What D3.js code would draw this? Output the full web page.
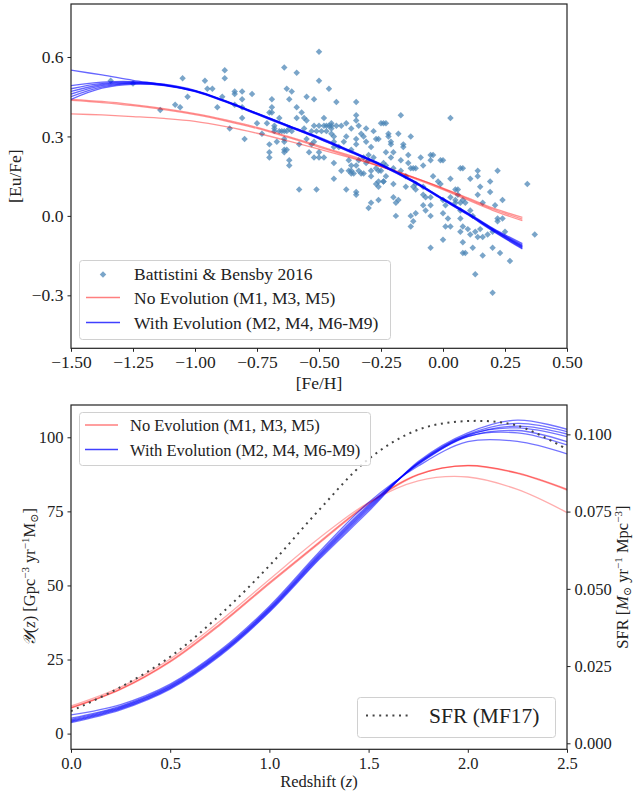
<!DOCTYPE html>
<html>
<head>
<meta charset="utf-8">
<script src="https://cdn.jsdelivr.net/npm/d3@7"></script>
<style>
body { margin: 0; background: #fff; }
text { font-family: "Liberation Serif", "DejaVu Serif", serif; fill: #222; }
</style>
</head>
<body>
<svg id="fig" width="634" height="795"></svg>
<script>

// --- top panel: stars of Battistini & Bensby 2016, [Fe/H] vs [Eu/Fe] ---
const stars = [
	[-1.34,0.51],[-1.25,0.50],[-1.14,0.40],[-1.08,0.42],[-1.06,0.41],[-1.05,0.52],[-1.03,0.45],[-0.96,0.51],
	[-0.95,0.48],[-0.93,0.48],[-0.91,0.41],[-0.89,0.45],[-0.88,0.55],[-0.88,0.52],[-0.86,0.33],[-0.84,0.47],
	[-0.84,0.46],[-0.84,0.42],[-0.81,0.47],[-0.81,0.44],[-0.81,0.41],[-0.81,0.37],[-0.80,0.29],[-0.77,0.46],
	[-0.75,0.35],[-0.73,0.31],[-0.71,0.35],[-0.70,0.27],[-0.70,0.24],[-0.70,0.22],[-0.69,0.44],[-0.69,0.41],
	[-0.69,0.39],[-0.68,0.34],[-0.68,0.33],[-0.67,0.28],[-0.66,0.37],[-0.65,0.32],[-0.64,0.56],[-0.64,0.28],
	[-0.64,0.24],[-0.63,0.48],[-0.63,0.32],[-0.62,0.44],[-0.62,0.21],[-0.62,0.19],[-0.61,0.47],[-0.61,0.32],
	[-0.59,0.54],[-0.59,0.41],[-0.59,0.37],[-0.58,0.10],[-0.57,0.39],[-0.56,0.37],[-0.56,0.33],[-0.55,0.45],
	[-0.55,0.29],[-0.53,0.27],[-0.52,0.44],[-0.52,0.34],[-0.52,0.22],[-0.51,0.10],[-0.50,0.62],[-0.50,0.51],
	[-0.50,0.34],[-0.46,0.48],[-0.43,0.43],[-0.35,0.43],[-0.17,0.38],[0.03,0.37],[-0.48,0.37],[-0.35,0.38],
	[-0.35,0.36],[-0.47,0.34],[-0.45,0.34],[-0.43,0.34],[-0.41,0.34],[-0.39,0.35],[-0.34,0.34],[-0.31,0.33],
	[-0.25,0.35],[-0.22,0.31],[-0.22,0.30],[-0.18,0.31],[-0.13,0.30],[-0.04,0.23],[0.00,0.21],[0.08,0.18],
	[0.07,0.18],[0.14,0.17],[0.14,0.15],[0.22,0.17],[0.19,0.13],[0.19,0.09],[0.34,0.12],[-0.44,0.20],
	[-0.39,0.10],[-0.35,0.09],[-0.35,0.08],[-0.41,0.17],[-0.38,0.17],[-0.37,0.16],[-0.36,0.16],[-0.34,0.17],
	[-0.33,0.16],[-0.31,0.20],[-0.70,0.39],[-0.55,0.36],[-0.68,0.32],[-0.66,0.32],[-0.64,0.32],[-0.62,0.33],
	[-0.64,0.29],[-0.58,0.27],[-0.64,0.25],[-0.63,0.25],[-0.54,0.24],[-0.50,0.22],[-0.48,0.22],[-0.50,0.24],
	[-0.52,0.28],[-0.53,0.32],[-0.51,0.32],[-0.49,0.32],[-0.47,0.32],[-0.48,0.34],[-0.46,0.34],[-0.45,0.35],
	[-0.45,0.33],[-0.45,0.31],[-0.44,0.30],[-0.44,0.28],[-0.44,0.26],[-0.44,0.14],[-0.42,0.26],[-0.37,0.33],
	[-0.40,0.28],[-0.39,0.30],[-0.37,0.25],[-0.35,0.29],[-0.35,0.27],[-0.33,0.31],[-0.32,0.30],[-0.38,0.21],
	[-0.37,0.19],[-0.35,0.19],[-0.34,0.21],[-0.32,0.22],[-0.37,0.17],[-0.32,0.16],[-0.31,0.28],[-0.29,0.26],
	[-0.28,0.32],[-0.27,0.29],[-0.26,0.29],[-0.30,0.23],[-0.30,0.21],[-0.28,0.22],[-0.29,0.17],[-0.29,0.15],
	[-0.27,0.18],[-0.26,0.17],[-0.26,0.13],[-0.27,0.12],[-0.26,0.11],[-0.24,0.13],[-0.29,0.05],[-0.30,0.03],
	[-0.26,0.06],[-0.24,0.35],[-0.23,0.35],[-0.21,0.28],[-0.21,0.27],[-0.16,0.27],[-0.16,0.26],[-0.23,0.24],
	[-0.20,0.24],[-0.21,0.22],[-0.24,0.20],[-0.23,0.19],[-0.25,0.17],[-0.23,0.15],[-0.24,0.13],[-0.20,0.18],
	[-0.20,0.12],[-0.17,0.21],[-0.17,0.17],[-0.14,0.20],[-0.14,0.23],[-0.09,0.22],[-0.08,0.19],[-0.05,0.21],
	[-0.05,0.23],[-0.01,0.21],[-0.13,0.18],[-0.12,0.18],[-0.11,0.18],[-0.15,0.15],[-0.15,0.11],[-0.12,0.11],
	[-0.11,0.12],[-0.11,0.10],[-0.20,0.07],[-0.18,0.06],[-0.19,0.05],[-0.19,0.00],[-0.13,0.00],[-0.12,-0.02],
	[-0.13,-0.04],[-0.11,0.01],[-0.08,0.11],[-0.08,0.08],[-0.07,0.07],[-0.08,0.04],[-0.05,0.04],[-0.05,0.07],
	[-0.07,0.02],[-0.05,0.00],[-0.05,-0.12],[-0.04,0.15],[-0.02,0.13],[-0.01,0.12],[0.00,0.06],[0.01,0.04],
	[0.03,0.07],[0.05,0.05],[0.00,0.01],[0.02,-0.01],[0.03,-0.04],[0.01,-0.04],[0.00,-0.09],[0.06,0.08],
	[0.07,0.05],[0.08,-0.04],[0.07,-0.06],[0.08,-0.10],[0.08,-0.14],[0.03,0.14],[0.11,0.14],[0.15,0.11],
	[0.14,0.08],[0.16,0.05],[0.24,0.06],[0.21,0.04],[0.05,0.10],[0.06,0.10],[0.05,0.06],[0.08,0.06],
	[0.09,0.05],[0.07,0.02],[0.11,0.02],[0.07,-0.01],[0.12,0.00],[0.22,-0.01],[0.24,-0.01],[0.22,-0.02],
	[0.10,-0.05],[0.11,-0.07],[0.13,-0.06],[0.15,-0.05],[0.14,-0.08],[0.16,-0.08],[0.18,-0.07],[0.20,-0.06],
	[0.25,-0.06],[0.37,-0.07],[0.09,-0.14],[0.12,-0.12],[0.16,-0.15],[0.20,-0.12],[0.23,-0.14],[0.27,-0.17],
	[0.13,-0.22],[0.20,-0.29]
];

// model tracks on a common [Fe/H] grid
const feGrid = [-1.5,-1.375,-1.25,-1.125,-1.0,-0.875,-0.75,-0.625,-0.5,-0.375,-0.25,-0.125,0,0.1,0.2,0.32];
const euNoEvo = [
	[0.440,0.432,0.420,0.405,0.386,0.362,0.334,0.300,0.264,0.228,0.190,0.148,0.103,0.064,0.026,-0.012],
	[0.436,0.428,0.416,0.401,0.382,0.358,0.330,0.296,0.260,0.224,0.186,0.144,0.099,0.060,0.021,-0.018],
	[0.385,0.381,0.375,0.368,0.357,0.337,0.312,0.283,0.252,0.220,0.186,0.147,0.105,0.068,0.030,-0.006]
];
const euEvo = [
	[0.550,0.532,0.512,0.495,0.472,0.432,0.387,0.342,0.297,0.247,0.196,0.136,0.066,0.012,-0.046,-0.105],
	[0.492,0.505,0.507,0.497,0.474,0.434,0.388,0.342,0.296,0.246,0.195,0.135,0.065,0.010,-0.048,-0.110],
	[0.480,0.500,0.505,0.496,0.473,0.433,0.387,0.341,0.295,0.245,0.194,0.134,0.064,0.009,-0.050,-0.113],
	[0.470,0.496,0.503,0.495,0.472,0.432,0.386,0.340,0.294,0.244,0.193,0.133,0.063,0.008,-0.051,-0.116],
	[0.460,0.492,0.501,0.494,0.471,0.431,0.385,0.339,0.293,0.243,0.192,0.132,0.062,0.007,-0.053,-0.119],
	[0.450,0.487,0.499,0.493,0.470,0.430,0.384,0.338,0.292,0.242,0.191,0.131,0.061,0.005,-0.055,-0.122],
	[0.440,0.482,0.497,0.492,0.469,0.429,0.383,0.337,0.291,0.241,0.190,0.130,0.060,0.004,-0.057,-0.125]
];

// --- bottom panel: rates vs redshift ---
const zGrid = [0,0.25,0.5,0.75,1.0,1.25,1.5,1.75,2.0,2.25,2.5];
const rateNoEvo = [
	[8.6,14.9,24.2,36.6,50.6,64.2,77.5,87.3,90.5,88.0,82.5],
	[8.8,15.1,24.5,37.0,51.0,64.6,77.8,87.5,90.4,87.8,82.2],
	[9.3,15.7,25.2,37.9,52.0,65.9,78.0,85.3,86.6,82.4,74.6]
];
const rateEvo = [
	[3.7,8.0,15.0,26.2,41.0,58.7,75.0,91.8,101.5,105.8,102.7],
	[4.0,8.3,15.3,26.5,41.3,59.1,75.5,91.5,101.0,104.7,101.9],
	[4.2,8.5,15.5,26.8,41.6,59.5,76.0,91.2,100.6,103.8,101.1],
	[4.5,8.8,15.8,27.0,41.9,59.8,76.4,91.3,100.8,103.2,100.2],
	[4.8,9.0,16.0,27.3,42.2,60.2,76.8,91.0,100.2,102.3,98.5],
	[5.2,9.3,16.3,27.6,42.5,60.6,77.2,90.8,100.3,101.5,97.4],
	[6.3,9.8,16.7,28.0,43.0,61.2,78.0,90.3,98.5,98.6,94.4]
];
const sfrMF17 = [0.0104,0.0182,0.0280,0.0415,0.0575,0.0755,0.0920,0.1015,0.1043,0.1028,0.0951];

const feTicks = [-1.5,-1.25,-1.0,-0.75,-0.5,-0.25,0,0.25,0.5];
const euTicks = [-0.3,0,0.3,0.6];
const zTicks = [0,0.5,1.0,1.5,2.0,2.5];
const rateTicks = [0,25,50,75,100];
const sfrTicks = [0,0.025,0.05,0.075,0.1];

const noEvoLabel = 'No Evolution (M1, M3, M5)';
const evoLabel = 'With Evolution (M2, M4, M6-M9)';

const svg = d3.select('#fig');
const minus = s => s.replace('-', '\u2212');
const fsTop = '17.5px', fsBot = '16.5px';

function styleAxis(g, fs) {
	g.select('.domain').remove();
	g.selectAll('.tick line').attr('stroke', '#222').attr('stroke-width', 1);
	g.selectAll('.tick text').style('font-size', fs).attr('fill', '#222');
}

function frame(x0, y0, x1, y1) {
	svg.append('rect')
		.attr('x', x0).attr('y', y0).attr('width', x1 - x0).attr('height', y1 - y0)
		.attr('fill', 'none').attr('stroke', '#222').attr('stroke-width', 1.2);
}

function legendBox(x, y, w, h) {
	svg.append('rect')
		.attr('x', x).attr('y', y).attr('width', w).attr('height', h).attr('rx', 3)
		.attr('fill', 'white').attr('fill-opacity', 0.8)
		.attr('stroke', '#d0d0d0').attr('stroke-width', 1);
}

// ================= TOP PANEL =================
const boxTop = {l: 71, r: 567, t: 4, b: 348.3};
const xFe = d3.scaleLinear().domain([-1.5, 0.5]).range([boxTop.l, boxTop.r]);
const yEu = d3.scaleLinear().domain([-0.5, 0.8]).range([boxTop.b, boxTop.t]);

svg.append('clipPath').attr('id', 'clipTop').append('rect')
	.attr('x', boxTop.l).attr('y', boxTop.t).attr('width', boxTop.r - boxTop.l).attr('height', boxTop.b - boxTop.t);

const diamond = d3.symbol().type(d3.symbolSquare).size(21);
svg.append('g').attr('clip-path', 'url(#clipTop)')
	.selectAll('path.star').data(stars).enter().append('path')
	.attr('class', 'star')
	.attr('d', diamond)
	.attr('transform', d => `translate(${xFe(d[0])},${yEu(d[1])}) rotate(45)`)
	.attr('fill', 'steelblue').attr('fill-opacity', 0.72);

const lineFe = d3.line().x((d, i) => xFe(feGrid[i])).y(d => yEu(d)).curve(d3.curveCatmullRom);
const gTopLines = svg.append('g').attr('clip-path', 'url(#clipTop)');
gTopLines.selectAll('path.noevo').data(euNoEvo).enter().append('path')
	.attr('d', lineFe).attr('fill', 'none')
	.attr('stroke', 'red').attr('stroke-opacity', 0.42).attr('stroke-width', 1.3);
gTopLines.selectAll('path.evo').data(euEvo).enter().append('path')
	.attr('d', lineFe).attr('fill', 'none')
	.attr('stroke', 'blue').attr('stroke-opacity', 0.6).attr('stroke-width', 1.3);

svg.append('g').attr('transform', `translate(0,${boxTop.b})`)
	.call(d3.axisBottom(xFe).tickValues(feTicks).tickSize(3.5).tickPadding(4).tickFormat(d => minus(d3.format('.2f')(d))))
	.call(styleAxis, fsTop);
svg.append('g').attr('transform', `translate(${boxTop.l},0)`)
	.call(d3.axisLeft(yEu).tickValues(euTicks).tickSize(3.5).tickPadding(4).tickFormat(d => minus(d3.format('.1f')(d))))
	.call(styleAxis, fsTop);
frame(boxTop.l, boxTop.t, boxTop.r, boxTop.b);

svg.append('text').attr('x', (boxTop.l + boxTop.r) / 2).attr('y', 389)
	.attr('text-anchor', 'middle').style('font-size', fsTop).text('[Fe/H]');
svg.append('text').attr('transform', `translate(21,${(boxTop.t + boxTop.b) / 2}) rotate(-90)`)
	.attr('text-anchor', 'middle').style('font-size', fsTop).text('[Eu/Fe]');

// top legend
legendBox(79.5, 260.5, 311, 79);
svg.append('path').attr('d', diamond)
	.attr('transform', 'translate(103,274.5) rotate(45)')
	.attr('fill', 'steelblue').attr('fill-opacity', 0.72);
svg.append('line').attr('x1', 86).attr('x2', 120).attr('y1', 297.5).attr('y2', 297.5)
	.attr('stroke', 'red').attr('stroke-opacity', 0.5).attr('stroke-width', 1.3);
svg.append('line').attr('x1', 86).attr('x2', 120).attr('y1', 322.5).attr('y2', 322.5)
	.attr('stroke', 'blue').attr('stroke-opacity', 0.75).attr('stroke-width', 1.6);
[['Battistini & Bensby 2016', 280], [noEvoLabel, 304], [evoLabel, 329]].forEach(([t, y]) => {
	svg.append('text').attr('x', 134).attr('y', y).style('font-size', fsTop).text(t);
});

// ================= BOTTOM PANEL =================
const boxBot = {l: 71, r: 567, t: 405, b: 749.3};
const xZ = d3.scaleLinear().domain([0, 2.5]).range([boxBot.l, boxBot.r]);
const yRate = d3.scaleLinear().domain([-5.3, 110.9]).range([boxBot.b, boxBot.t]);
const ySfr = d3.scaleLinear().domain([-0.00194, 0.1095]).range([boxBot.b, boxBot.t]);

svg.append('clipPath').attr('id', 'clipBot').append('rect')
	.attr('x', boxBot.l).attr('y', boxBot.t).attr('width', boxBot.r - boxBot.l).attr('height', boxBot.b - boxBot.t);

const lineRate = d3.line().x((d, i) => xZ(zGrid[i])).y(d => yRate(d)).curve(d3.curveCatmullRom);
const lineSfr = d3.line().x((d, i) => xZ(zGrid[i])).y(d => ySfr(d)).curve(d3.curveCatmullRom);
const gBot = svg.append('g').attr('clip-path', 'url(#clipBot)');
gBot.selectAll('path.noevo').data(rateNoEvo).enter().append('path')
	.attr('d', lineRate).attr('fill', 'none')
	.attr('stroke', 'red').attr('stroke-opacity', (d, i) => i == 2 ? 0.32 : 0.42).attr('stroke-width', 1.3);
gBot.selectAll('path.evo').data(rateEvo).enter().append('path')
	.attr('d', lineRate).attr('fill', 'none')
	.attr('stroke', 'blue').attr('stroke-opacity', 0.55).attr('stroke-width', 1.3);
gBot.append('path').datum(sfrMF17).attr('d', lineSfr).attr('fill', 'none')
	.attr('stroke', '#444').attr('stroke-width', 2).attr('stroke-dasharray', '2,4.6');

svg.append('g').attr('transform', `translate(0,${boxBot.b})`)
	.call(d3.axisBottom(xZ).tickValues(zTicks).tickSize(3.5).tickPadding(4).tickFormat(d3.format('.1f')))
	.call(styleAxis, fsBot);
svg.append('g').attr('transform', `translate(${boxBot.l},0)`)
	.call(d3.axisLeft(yRate).tickValues(rateTicks).tickSize(3.5).tickPadding(4).tickFormat(d3.format('d')))
	.call(styleAxis, fsBot);
svg.append('g').attr('transform', `translate(${boxBot.r},0)`)
	.call(d3.axisRight(ySfr).tickValues(sfrTicks).tickSize(3.5).tickPadding(4).tickFormat(d3.format('.3f')))
	.call(styleAxis, fsBot);
frame(boxBot.l, boxBot.t, boxBot.r, boxBot.b);

const xl = svg.append('text').attr('x', (boxBot.l + boxBot.r) / 2).attr('y', 787)
	.attr('text-anchor', 'middle').style('font-size', fsBot);
xl.append('tspan').text('Redshift (');
xl.append('tspan').style('font-style', 'italic').text('z');
xl.append('tspan').text(')');

const yl = svg.append('text').attr('transform', `translate(35,${(boxBot.t + boxBot.b) / 2}) rotate(-90)`)
	.attr('text-anchor', 'middle').style('font-size', fsBot);
yl.append('tspan').style('font-style', 'italic').text('\u{1D4B4}');
yl.append('tspan').text('(');
yl.append('tspan').style('font-style', 'italic').text('z');
yl.append('tspan').text(') [Gpc');
yl.append('tspan').attr('dy', -6).style('font-size', '11px').text('\u22123');
yl.append('tspan').attr('dy', 6).text(' yr');
yl.append('tspan').attr('dy', -6).style('font-size', '11px').text('\u22121');
yl.append('tspan').attr('dy', 6).text('M');
yl.append('tspan').attr('dy', 3).style('font-size', '11px').text('\u2299');
yl.append('tspan').attr('dy', -3).text(']');

const yr = svg.append('text').attr('transform', `translate(627.5,${(boxBot.t + boxBot.b) / 2}) rotate(-90)`)
	.attr('text-anchor', 'middle').style('font-size', fsBot);
yr.append('tspan').text('SFR [');
yr.append('tspan').style('font-style', 'italic').text('M');
yr.append('tspan').attr('dy', 3).style('font-size', '11px').text('\u2299');
yr.append('tspan').attr('dy', -3).text(' yr');
yr.append('tspan').attr('dy', -6).style('font-size', '11px').text('\u22121');
yr.append('tspan').attr('dy', 6).text(' Mpc');
yr.append('tspan').attr('dy', -6).style('font-size', '11px').text('\u22123');
yr.append('tspan').attr('dy', 6).text(']');

// bottom legends
legendBox(79.5, 412.5, 291, 53);
svg.append('line').attr('x1', 85).attr('x2', 118).attr('y1', 425).attr('y2', 425)
	.attr('stroke', 'red').attr('stroke-opacity', 0.5).attr('stroke-width', 1.3);
svg.append('line').attr('x1', 85).attr('x2', 118).attr('y1', 449.5).attr('y2', 449.5)
	.attr('stroke', 'blue').attr('stroke-opacity', 0.75).attr('stroke-width', 1.6);
svg.append('text').attr('x', 130).attr('y', 431).style('font-size', fsBot).text(noEvoLabel);
svg.append('text').attr('x', 130).attr('y', 455.5).style('font-size', fsBot).text(evoLabel);

legendBox(357.5, 697.5, 198, 40);
svg.append('line').attr('x1', 366).attr('x2', 411).attr('y1', 715.5).attr('y2', 715.5)
	.attr('stroke', '#444').attr('stroke-width', 2).attr('stroke-dasharray', '2,4.6');
svg.append('text').attr('x', 429).attr('y', 723).style('font-size', '21.5px').text('SFR (MF17)');

</script>
</body>
</html>
